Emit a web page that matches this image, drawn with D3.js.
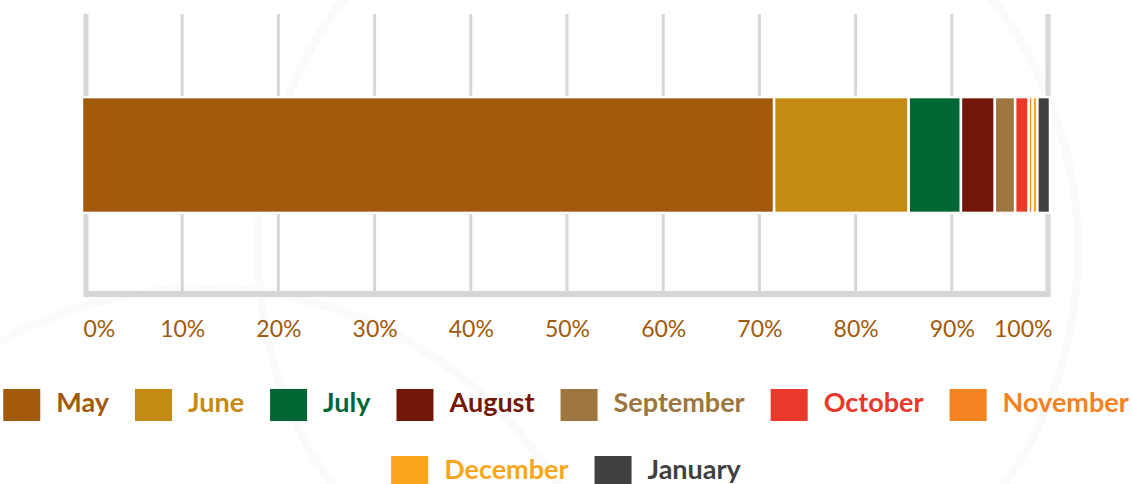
<!DOCTYPE html>
<html>
<head>
<meta charset="utf-8">
<script src="https://cdn.jsdelivr.net/npm/d3@7"></script>
<style>
  body { margin: 0; background: #fff; }
  svg { display: block; font-family: Lato, "Open Sans", sans-serif; }
</style>
</head>
<body>
<svg id="chart"></svg>
<script>
// share of the total per month, in percent
var months = ['May', 'June', 'July', 'August', 'September', 'October', 'November', 'December', 'January'];
var shares = [71.5, 13.9, 5.4, 3.5, 2.1, 1.4, 0.4, 0.5, 1.3];
var colors = ['#a15a0c', '#c48a12', '#006633', '#731709', '#9c763e', '#e8392a', '#f58220', '#faa61a', '#414042'];
var tickValues = [0, 10, 20, 30, 40, 50, 60, 70, 80, 90, 100];

var width = 1132;
var height = 484;

var svg = d3.select('#chart')
            .attr('width', width)
            .attr('height', height);

// faint watermark circles in the background
var marks = [{cx: 668, cy: 250, r: 410}, {cx: 205, cy: 702, r: 414}];
svg.append('g')
   .selectAll('circle')
   .data(marks)
   .enter()
     .append('circle')
     .attr('cx', function (d) { return d.cx; })
     .attr('cy', function (d) { return d.cy; })
     .attr('r', function (d) { return d.r; })
     .attr('fill', 'none')
     .attr('stroke', '#fafafa')
     .attr('stroke-width', 8);

var x = d3.scaleLinear().domain([0, 100]).range([86, 1048]);
var y = d3.scaleBand().domain(['all']).range([16, 294]).paddingOuter(0.7);

// grid lines, outer ones thicker
svg.append('g')
   .selectAll('line')
   .data(tickValues)
   .enter()
     .append('line')
     .attr('x1', function (d) { return x(d); })
     .attr('x2', function (d) { return x(d); })
     .attr('y1', 14)
     .attr('y2', 294)
     .attr('stroke', '#d6d6d6')
     .attr('stroke-width', function (d) { return (d === 0 || d === 100) ? 5 : 3; });

svg.append('line')
   .attr('x1', x(0) - 2.5)
   .attr('x2', x(100) + 2.5)
   .attr('y1', 294)
   .attr('y2', 294)
   .attr('stroke', '#d6d6d6')
   .attr('stroke-width', 6);

// stacked segments
var stacked = [];
var acc = 0;
shares.forEach(function (v, i) {
  stacked.push({month: months[i], start: acc, end: acc + v, color: colors[i]});
  acc += v;
});

// bar scale starts a bit left of the axis line, as in the original
var xb = d3.scaleLinear().domain([0, 100]).range([82, 1050]);

svg.append('g')
   .selectAll('rect')
   .data(stacked)
   .enter()
     .append('rect')
     .attr('x', function (d) { return xb(d.start); })
     .attr('width', function (d) { return xb(d.end) - xb(d.start); })
     .attr('y', y('all'))
     .attr('height', y.bandwidth())
     .attr('fill', function (d) { return d.color; })
     .attr('stroke', '#fff')
     .attr('stroke-width', 2.5);

// axis labels
var axis = svg.append('g')
              .attr('transform', 'translate(0,294)')
              .call(d3.axisBottom(x)
                      .tickValues(tickValues)
                      .tickFormat(function (d) { return d + '%'; })
                      .tickSize(0)
                      .tickPadding(27));
axis.select('.domain').remove();
axis.selectAll('text')
    .attr('fill', '#a15a0c')
    .style('font-family', 'Lato, sans-serif')
    .style('font-size', '23px')
    .attr('text-anchor', function (d) {
      if (d === 0) return 'start';
      if (d === 100) return 'end';
      return 'middle';
    })
    .attr('dx', function (d) {
      if (d === 0) return -3;
      if (d === 100) return 4;
      return 0;
    });

// legend, wrapped into centred rows
var legend = svg.append('g');
var items = legend.selectAll('g')
                  .data(stacked)
                  .enter()
                    .append('g');

items.append('rect')
     .attr('width', 37)
     .attr('height', 32)
     .attr('y', -16)
     .attr('fill', function (d) { return d.color; });

items.append('text')
     .attr('x', 53)
     .attr('y', 7)
     .attr('fill', function (d) { return d.color; })
     .style('font-family', 'Lato, sans-serif')
     .style('font-weight', 'bold')
     .style('font-size', '27px')
     .text(function (d) { return d.month; });

var gap = 26;
var rows = [[]];
var rowWidth = 0;
items.each(function (d) {
  var w = 53 + this.querySelector('text').getComputedTextLength();
  var row = rows[rows.length - 1];
  var extra = row.length ? gap + w : w;
  if (row.length && rowWidth + extra > width) {
    rows.push([]);
    row = rows[rows.length - 1];
    rowWidth = 0;
    extra = w;
  }
  row.push({node: this, w: w});
  rowWidth += extra;
  row.total = rowWidth;
});

rows.forEach(function (row, r) {
  var cx = (width - row.total) / 2;
  row.forEach(function (it) {
    d3.select(it.node).attr('transform', 'translate(' + cx + ',' + (405 + r * 67) + ')');
    cx += it.w + gap;
  });
});
</script>
</body>
</html>
